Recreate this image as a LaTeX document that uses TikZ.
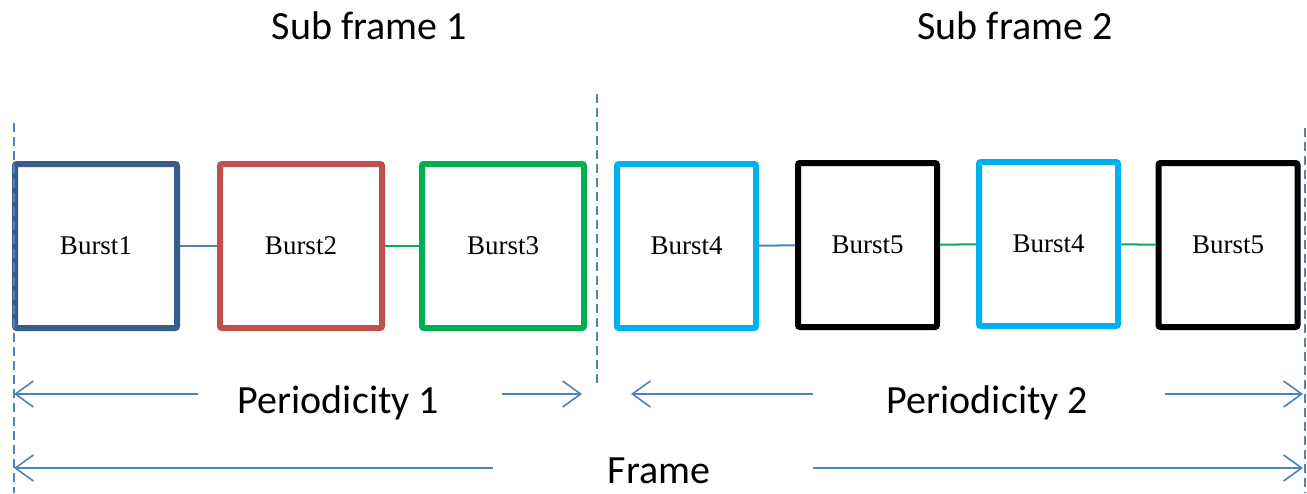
\documentclass[tikz,border=0pt]{standalone}
\usepackage{fontspec}
\setmainfont{Carlito}
\newfontfamily\burstfont{Liberation Serif}
\usetikzlibrary{arrows.meta}
\definecolor{lineblue}{HTML}{4F81BD}
\definecolor{darkblue}{HTML}{385D8A}
\definecolor{burstred}{HTML}{C0504D}
\definecolor{burstgreen}{HTML}{00B050}
\definecolor{burstcyan}{HTML}{00B0F0}
\begin{document}
\begin{tikzpicture}[x=1pt, y=-1pt,
    burst/.style={draw, line width=6pt, rounded corners=2pt, minimum width=162pt, minimum height=164pt, font=\burstfont\fontsize{27}{30}\selectfont},
    narrowburst/.style={burst, minimum width=139pt},
    caption/.style={anchor=base, inner sep=0pt, font=\fontsize{40}{48}\selectfont},
    border/.style={lineblue, line width=2pt, dash pattern=on 9pt off 5pt},
    span/.style={lineblue, line width=1.6pt, -{Straight Barb[length=18pt, width=26pt, line width=1.6pt]}},
    link/.style={line width=2pt}]
        \useasboundingbox (0,0) rectangle (1307,493);

        % Define the nodes
        \node[burst, darkblue, text=black] (b1) at (96,246) {Burst1};
        \node[burst, burstred, text=black] (b2) at (301,246) {Burst2};
        \node[burst, burstgreen, text=black] (b3) at (503,246) {Burst3};
        \node[narrowburst, burstcyan, text=black] (b4) at (686.5,246) {Burst4};
        \node[narrowburst, black] (b5) at (867.5,245) {Burst5};
        \node[narrowburst, burstcyan, text=black] (b6) at (1048.5,244) {Burst4};
        \node[narrowburst, black] (b7) at (1228,245) {Burst5};

        \node[caption] (sub1) at (369.5,39) {Sub frame 1};
        \node[caption] (sub2) at (1015,39) {Sub frame 2};
        \node[caption] (per1) at (338.5,413) {Periodicity 1};
        \node[caption] (per2) at (987.5,413) {Periodicity 2};
        \node[caption] (frame) at (659,483) {Frame};

        % Frame borders
        \coordinate (lefttop) at (14,123);
        \coordinate (leftbot) at (14,493);
        \coordinate (midtop) at (597,94);
        \coordinate (midbot) at (597,388);
        \coordinate (righttop) at (1305,128);
        \coordinate (rightbot) at (1305,493);
        \draw[border] (lefttop) -- (leftbot);
        \draw[border] (midtop) -- (midbot);
        \draw[border] (righttop) -- (rightbot);

        % Draw the edges
        \draw[link, lineblue] (b1) -- (b2);
        \draw[link, burstgreen] (b2) -- (b3);
        \draw[link, lineblue] (b4) -- (b5);
        \draw[link, burstgreen] (b5) -- (b6);
        \draw[link, burstgreen] (b6) -- (b7);

        % Periodicity and frame spans
        \coordinate (p1a) at (198,394);
        \coordinate (p1l) at (14,394);
        \coordinate (p1b) at (502,394);
        \coordinate (p1r) at (582,394);
        \coordinate (p2a) at (813,394);
        \coordinate (p2l) at (631,394);
        \coordinate (p2b) at (1165,394);
        \coordinate (p2r) at (1303,394);
        \coordinate (fa) at (493,468);
        \coordinate (fl) at (14,468);
        \coordinate (fb) at (813,468);
        \coordinate (fr) at (1303,468);
        \draw[span] (p1a) -- (p1l);
        \draw[span] (p1b) -- (p1r);
        \draw[span] (p2a) -- (p2l);
        \draw[span] (p2b) -- (p2r);
        \draw[span] (fa) -- (fl);
        \draw[span] (fb) -- (fr);
    \end{tikzpicture}
\end{document}
